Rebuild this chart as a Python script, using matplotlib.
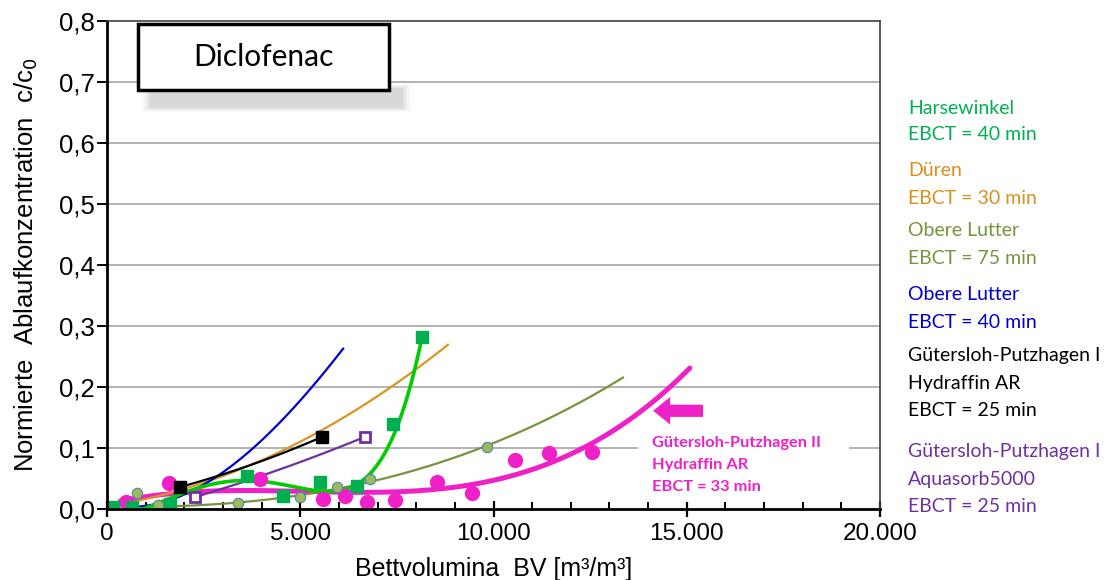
import numpy as np
import matplotlib
matplotlib.use("Agg")
import matplotlib.pyplot as plt
from matplotlib.patches import Rectangle, FancyArrow
from matplotlib.ticker import MultipleLocator, FixedLocator

# ---------------- data ----------------
# Harsewinkel, EBCT = 40 min (green squares + polynomial trend line)
hw_x = [155, 650, 1630, 3620, 4550, 5510, 6470, 7400, 8150]
hw_y = [0.003, 0.003, 0.008, 0.054, 0.022, 0.045, 0.037, 0.140, 0.282]
hw_fit_x = [930, 1550, 2400, 3620, 4660, 5510, 6370, 6990, 7400, 7760, 8150]
hw_fit_y = [0.000, 0.015, 0.036, 0.046, 0.039, 0.030, 0.037, 0.069, 0.124, 0.179, 0.282]

# Dueren, EBCT = 30 min (trend line only)
du_fit_x = [0, 1890, 3620, 5850, 7580, 8820]
du_fit_y = [0.003, 0.036, 0.064, 0.141, 0.212, 0.268]

# Obere Lutter, EBCT = 75 min (olive circles + trend line)
ol75_x = [780, 1320, 3390, 4990, 5950, 6800, 9830]
ol75_y = [0.026, 0.007, 0.010, 0.020, 0.036, 0.049, 0.102]
ol75_fit_x = [930, 3390, 4990, 5950, 6800, 9830, 11460, 13350]
ol75_fit_y = [0.004, 0.010, 0.021, 0.034, 0.047, 0.100, 0.152, 0.215]

# Obere Lutter, EBCT = 40 min (trend line only)
ol40_fit_x = [780, 1550, 2400, 3260, 4140, 4990, 5510, 6110]
ol40_fit_y = [0.003, 0.015, 0.036, 0.069, 0.124, 0.179, 0.212, 0.264]

# Guetersloh-Putzhagen I, Hydraffin AR (black squares)
gp1h_x = [1890, 5560]
gp1h_y = [0.036, 0.118]
gp1h_fit_x = [1890, 3620, 5560]
gp1h_fit_y = [0.036, 0.070, 0.118]

# Guetersloh-Putzhagen I, Aquasorb5000 (purple open squares)
gp1a_x = [2280, 6680]
gp1a_y = [0.020, 0.118]
gp1a_fit_x = [2280, 3620, 4990, 6680]
gp1a_fit_y = [0.020, 0.045, 0.078, 0.118]

# Guetersloh-Putzhagen II, Hydraffin AR (magenta circles + trend line)
gp2_x = [500, 1600, 3960, 5590, 6160, 6730, 7450, 8540, 9440, 10560, 11440, 12550]
gp2_y = [0.012, 0.042, 0.050, 0.016, 0.021, 0.012, 0.015, 0.044, 0.027, 0.080, 0.092, 0.093]
gp2_fit_x = [340, 1550, 3260, 4990, 6730, 8440, 10170, 10600, 12320, 14050, 15080]
gp2_fit_y = [0.012, 0.026, 0.030, 0.028, 0.028, 0.031, 0.048, 0.059, 0.102, 0.168, 0.233]

x_ticks = [0, 5000, 10000, 15000, 20000]
x_tick_labels = ["0", "5.000", "10.000", "15.000", "20.000"]
y_ticks = [0.0, 0.1, 0.2, 0.3, 0.4, 0.5, 0.6, 0.7, 0.8]
y_tick_labels = ["0,0", "0,1", "0,2", "0,3", "0,4", "0,5", "0,6", "0,7", "0,8"]

legend_entries = [
    ("Harsewinkel", "#00B050", 108), ("EBCT = 40 min", "#00B050", 134),
    ("Düren", "#D8901E", 170), ("EBCT = 30 min", "#D8901E", 198),
    ("Obere Lutter", "#77933C", 231), ("EBCT = 75 min", "#77933C", 258),
    ("Obere Lutter", "#0000CC", 294), ("EBCT = 40 min", "#0000CC", 322),
    ("Gütersloh-Putzhagen I", "#000000", 356), ("Hydraffin AR", "#000000", 384),
    ("EBCT = 25 min", "#000000", 411),
    ("Gütersloh-Putzhagen I", "#7030A0", 451), ("Aquasorb5000", "#7030A0", 480),
    ("EBCT = 25 min", "#7030A0", 507),
]

# ---------------- figure ----------------
W, H = 1120, 580
fig = plt.figure(figsize=(W / 100, H / 100), dpi=100)
ax = fig.add_axes([107 / W, 1 - 509 / H, (880 - 107) / W, (509 - 21) / H])
ax.set_xlim(0, 20000)
ax.set_ylim(0, 0.8)


def smooth(xs, ys, deg, n=200):
    p = np.polyfit(xs, ys, deg)
    xx = np.linspace(min(xs), max(xs), n)
    return xx, np.polyval(p, xx)


pink = "#F020C8"
# trend lines
xx, yy = smooth(gp2_fit_x, gp2_fit_y, 4)
ax.plot(xx, yy, color=pink, lw=3.6, zorder=3, solid_capstyle="round")
xx, yy = smooth(ol75_fit_x, ol75_fit_y, 3)
ax.plot(xx, yy, color="#77933C", lw=1.6, zorder=4)
xx, yy = smooth(du_fit_x, du_fit_y, 3)
ax.plot(xx, yy, color="#DA9525", lw=1.6, zorder=4)
xx, yy = smooth(ol40_fit_x, ol40_fit_y, 3)
ax.plot(xx, yy, color="#0000CC", lw=1.6, zorder=4)
xx, yy = smooth(gp1h_fit_x, gp1h_fit_y, 2)
ax.plot(xx, yy, color="black", lw=1.6, zorder=4)
xx, yy = smooth(gp1a_fit_x, gp1a_fit_y, 2)
ax.plot(xx, yy, color="#7030A0", lw=1.6, zorder=4)
xx, yy = smooth(hw_fit_x, hw_fit_y, 6)
ax.plot(xx, yy, color="#00CC00", lw=2.6, zorder=5)

# markers
ax.plot(gp2_x, gp2_y, "o", color=pink, ms=10, mec=pink, zorder=6, ls="none")
ax.plot(ol75_x, ol75_y, "o", mfc="#9BBB59", mec="#4F81BD", mew=0.8, ms=7.5, zorder=6, ls="none")
ax.plot(hw_x, hw_y, "s", color="#00B050", ms=8.5, zorder=6, ls="none")
ax.plot(gp1h_x, gp1h_y, "s", color="black", ms=8, zorder=6, ls="none")
ax.plot(gp1a_x, gp1a_y, "s", mfc="white", mec="#7030A0", mew=2, ms=7.5, zorder=6, ls="none")

# arrow
ax.add_patch(FancyArrow(15420, 0.161, -1290, 0, width=0.02, head_width=0.045,
                        head_length=440, length_includes_head=True,
                        color=pink, lw=0, zorder=7))

# label box for GP II
ax.add_patch(Rectangle((13740, 0.012), 5460, 0.113, facecolor="white",
                       edgecolor="none", zorder=2))
for txt, yv in [("Gütersloh-Putzhagen II", 0.108), ("Hydraffin AR", 0.072),
                ("EBCT = 33 min", 0.036)]:
    ax.text(14100, yv, txt, color=pink, fontsize=11.8, fontweight="bold",
            family="Lato", va="center", ha="left", zorder=8)

# grid, spines, ticks
for yv in y_ticks[1:-1]:
    ax.axhline(yv, color="#A6A6A6", lw=1.2, zorder=1)
ax.spines["left"].set_linewidth(2)
ax.spines["bottom"].set_linewidth(2)
ax.spines["top"].set_linewidth(1.2)
ax.spines["right"].set_linewidth(1.2)
ax.spines["top"].set_color("#404040")
ax.spines["right"].set_color("#404040")
for s in ax.spines.values():
    s.set_zorder(9)
ax.xaxis.set_major_locator(FixedLocator(x_ticks))
ax.set_xticklabels(x_tick_labels)
ax.xaxis.set_minor_locator(MultipleLocator(1000))
ax.yaxis.set_major_locator(FixedLocator(y_ticks))
ax.set_yticklabels(y_tick_labels)
ax.tick_params(axis="x", which="major", direction="inout", length=12, width=1.6,
               labelsize=17.5, pad=4)
ax.tick_params(axis="x", which="minor", direction="in", length=5, width=1.4)
ax.tick_params(axis="y", which="major", direction="out", length=7, width=1.4,
               labelsize=18.5, pad=2)
for lab in ax.get_xticklabels() + ax.get_yticklabels():
    lab.set_family("Liberation Sans")

ax.set_xlabel("Bettvolumina  BV [m³/m³]", fontsize=18, family="Liberation Sans")
ax.xaxis.set_label_coords(0.5, -0.098)
ax.set_ylabel("Normierte  Ablaufkonzentration  c/c$_0$", fontsize=18.5,
              family="Liberation Sans")
ax.yaxis.set_label_coords(-0.087, 0.5)

# title box with soft shadow underneath
bx0, by0, bx1, by1 = 138, 24, 389, 90
shadow_layers = [(0, 0.09), (2, 0.07), (4, 0.055), (6, 0.04), (8, 0.03)]
for g, a in shadow_layers:
    sx0, sx1 = 150 - g, 403 + g
    sy0, sy1 = 88 - g / 2, 108 + g / 2
    fig.patches.append(Rectangle((sx0 / W, 1 - sy1 / H), (sx1 - sx0) / W, (sy1 - sy0) / H,
                                 transform=fig.transFigure, facecolor="#707070",
                                 alpha=a, edgecolor="none", zorder=10))
fig.patches.append(Rectangle((bx0 / W, 1 - by1 / H), (bx1 - bx0) / W, (by1 - by0) / H,
                             transform=fig.transFigure, facecolor="white",
                             edgecolor="black", lw=2.5, zorder=11))
fig.text((bx0 + bx1) / 2 / W, 1 - 57 / H, "Diclofenac", ha="center", va="center",
         fontsize=21.5, family="Lato", zorder=12)

# right-hand legend texts
for txt, col, ypx in legend_entries:
    fig.text(908 / W, 1 - ypx / H, txt, color=col, fontsize=14, family="Lato",
             va="center", ha="left")

fig.savefig("out.png", dpi=100)
